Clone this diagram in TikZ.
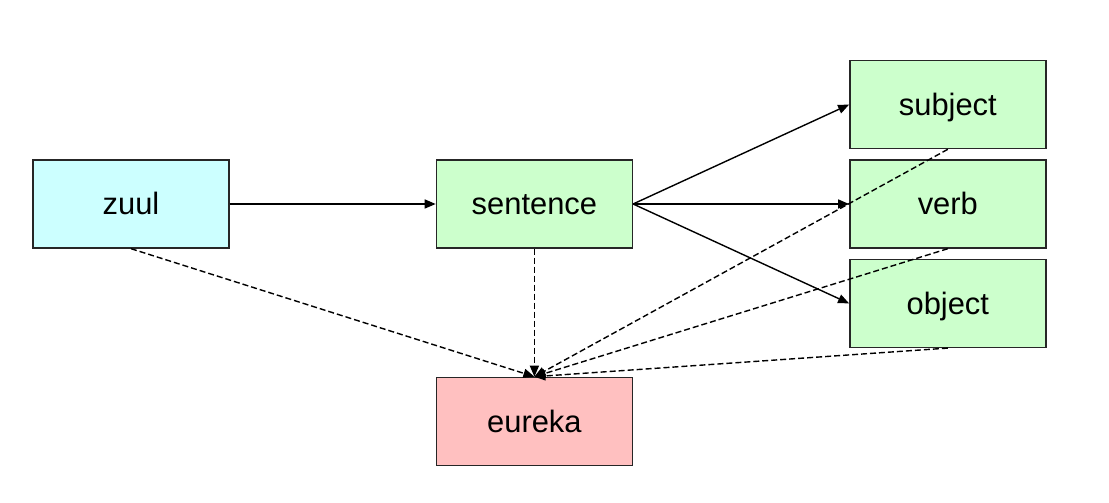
\documentclass[tikz,border=0pt]{standalone}
\usepackage{fontspec}
\setmainfont{Liberation Sans}
\usetikzlibrary{positioning,arrows.meta}
\definecolor{zuulcyan}{HTML}{CCFFFF}
\definecolor{partgreen}{HTML}{CCFFCC}
\definecolor{eurekapink}{HTML}{FFC0C0}
\tikzset{
    modbox/.style={draw=black!85, line width=1.4bp, minimum width=196bp, minimum height=88bp, inner sep=0pt, text height=22bp, text depth=0bp},
    uses/.style={-{Triangle[length=11bp,width=9bp]}, line width=1.4bp},
    depends/.style={uses, dash pattern=on 6bp off 3bp}
}
\begin{document}
\begin{tikzpicture}[x=1bp, y=1bp, font=\fontsize{31}{36}\selectfont]
    \useasboundingbox (0,0) rectangle (1109,503);
    \node[modbox, fill=zuulcyan] (zuul) at (131,299) {zuul};
    \node[modbox, fill=partgreen, right=206bp of zuul] (sentence) {sentence};
    \node[modbox, fill=partgreen, right=216bp of sentence] (verb) {verb};
    \node[modbox, fill=partgreen, above=10bp of verb] (subject) {subject};
    \node[modbox, fill=partgreen, below=10bp of verb] (object) {object};
    \node[modbox, fill=eurekapink, below=128bp of sentence] (eureka) {eureka};
    % solid arrows
    \draw[uses] (zuul) -- (sentence);
    \draw[uses] (sentence.east) -- (subject.west);
    \draw[uses] (sentence.east) -- (verb.west);
    \draw[uses] (sentence.east) -- (object.west);
    % dashed arrows to eureka
    \foreach \src in {zuul, sentence, subject, verb, object}
        \draw[depends] (\src.south) -- (eureka.north);
\end{tikzpicture}
\end{document}
